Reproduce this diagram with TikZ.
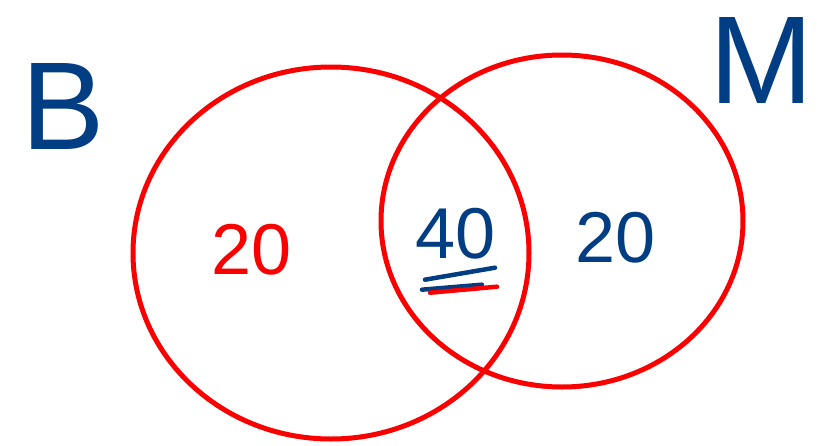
\documentclass[tikz,border=0pt]{standalone}
\usepackage{fontspec}
\setmainfont{Liberation Sans}
\usepackage{tikz}
\usetikzlibrary{shapes.geometric}
\definecolor{penred}{RGB}{250,0,0}
\definecolor{penblue}{RGB}{0,61,130}

\begin{document}
\begin{tikzpicture}[x=1pt,y=-1pt,
    ring/.style={ellipse,draw=penred,line width=5pt,inner sep=0pt},
    letter/.style={text=penblue,font=\fontsize{125}{125}\selectfont,inner sep=0pt},
    count/.style={font=\fontsize{72}{72}\selectfont,inner sep=0pt},
    stroke/.style={line width=4.5pt,line cap=round},
]
    \useasboundingbox (0,0) rectangle (831,445);
    % the two sets
    \node[ring,minimum width=396pt,minimum height=372pt] (setB) at (331,253) {};
    \node[ring,minimum width=362pt,minimum height=332pt] (setM) at (562,221) {};

    % set names
    \node[letter] (nameB) at (63,106) {B};
    \node[letter] (nameM) at (762,60) {M};

    % counts
    \node[count,text=penred]  (onlyB) at (252,250) {20};
    \node[count,text=penblue] (both)  at (456,234) {40};
    \node[count,text=penblue] (onlyM) at (616,238) {20};

    % underline of the middle count
    \draw[stroke,penblue] ([xshift=-31pt,yshift=-20pt]both.south) -- ([xshift=39pt,yshift=-8pt]both.south);
    \draw[stroke,penblue] ([xshift=-34pt,yshift=-30pt]both.south) -- ([xshift=26pt,yshift=-25pt]both.south);
    \draw[stroke,penred]  ([xshift=-26pt,yshift=-33pt]both.south) -- ([xshift=41pt,yshift=-27pt]both.south);
\end{tikzpicture}
\end{document}
